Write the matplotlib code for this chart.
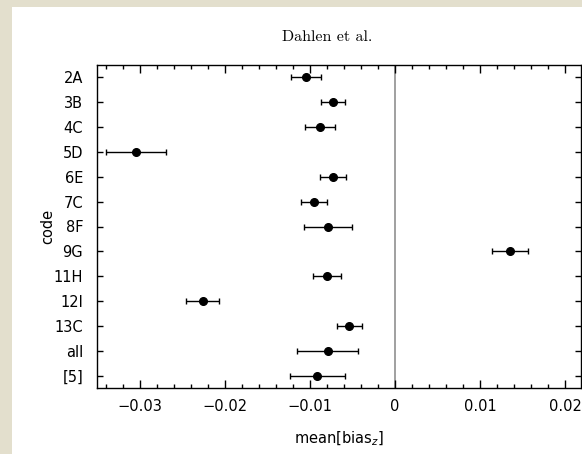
import numpy as np
import matplotlib
matplotlib.use("Agg")
import matplotlib.pyplot as plt
from matplotlib.ticker import MultipleLocator

# codes, top to bottom
codes = ["2A", "3B", "4C", "5D", "6E", "7C", "8F", "9G", "11H", "12I", "13C", "all", "[5]"]
mean_bias = [-0.0104, -0.0073, -0.0088, -0.0304, -0.0073, -0.0095, -0.0079,
             0.0135, -0.0080, -0.0226, -0.0054, -0.0079, -0.0091]
err_lo = [0.0018, 0.0014, 0.0018, 0.0035, 0.0015, 0.0015, 0.0028,
          0.0021, 0.0016, 0.0019, 0.0014, 0.0036, 0.0032]
err_hi = [0.0017, 0.0014, 0.0018, 0.0035, 0.0015, 0.0015, 0.0029,
          0.0021, 0.0017, 0.0019, 0.0015, 0.0036, 0.0032]

plt.rcParams['font.family'] = 'DejaVu Sans'
plt.rcParams['mathtext.fontset'] = 'dejavusans'

W, H = 582, 454
fig = plt.figure(figsize=(W / 100, H / 100), dpi=100)
fig.patch.set_facecolor('#e3dfcd')
# white panel behind everything
panel = plt.Rectangle((12 / W, 0), 1 - 12 / W, 1 - 7 / H,
                      transform=fig.transFigure, facecolor='white',
                      edgecolor='none', zorder=-10)
fig.add_artist(panel)

ax = fig.add_axes([97 / W, 1 - 388 / H, (580.5 - 97) / W, (388 - 65) / H])
ax.set_facecolor('white')

y = np.arange(len(codes))
ax.axvline(0, color='#a0a0a0', lw=1.4, zorder=1)
ax.errorbar(mean_bias, y, xerr=[err_lo, err_hi], fmt='o', color='black',
            ms=5.5, elinewidth=1.0, capsize=2.2, capthick=1.0, zorder=3)

ax.set_xlim(-0.035, 0.0218)
ax.set_ylim(len(codes) - 0.5, -0.5)
ax.set_yticks(y)
ax.set_yticklabels(codes)
ticks = [-0.03, -0.02, -0.01, 0.0, 0.01, 0.02]
ax.set_xticks(ticks)
ax.set_xticklabels(['0' if t == 0 else f'{t:.2f}'.replace('-', '\u2212') for t in ticks])
ax.xaxis.set_minor_locator(MultipleLocator(0.002))
ax.set_xlim(-0.035, 0.0218)

fs = 10.5
ax.tick_params(axis='x', which='major', direction='in', top=True, length=6, width=1, labelsize=fs, pad=8)
ax.tick_params(axis='x', which='minor', direction='in', top=True, length=3, width=1)
ax.tick_params(axis='y', which='major', direction='in', right=True, length=4, width=1, labelsize=fs, pad=10)
for s in ax.spines.values():
    s.set_linewidth(1.0)

ax.set_xlabel('mean[bias$_z$]', fontsize=fs, labelpad=11)
ax.set_ylabel('code', fontsize=fs)
ax.yaxis.set_label_coords(-0.087, 0.5)

fig.text(327 / W, 1 - 37 / H, 'Dahlen et al.', family='cmr10', fontsize=11.5,
         ha='center', va='center')

fig.savefig('out.png', dpi=100, facecolor=fig.get_facecolor())
